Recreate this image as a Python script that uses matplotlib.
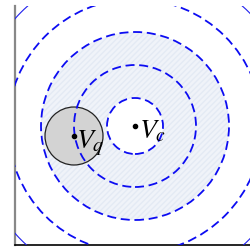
import matplotlib.pyplot as plt
from matplotlib.patches import Circle, Wedge

plt.rcParams['mathtext.fontset'] = 'stix'

# geometry (in pixel-like data units, centre Vc at origin)
vc = (0, 0)
vq = (-61, -10)
vq_radius = 29
dashed_radii = [28, 61, 94, 127]
outer_radius = 161
shade_inner, shade_outer = 28, 94

fig = plt.figure(figsize=(2.51, 2.49), dpi=100)
ax = fig.add_axes([15 / 251, 4 / 249, 240 / 251, 239 / 249])
ax.set_xlim(-120, 120)
ax.set_ylim(-119, 120)
ax.set_aspect('auto')

# shaded annulus
ax.add_patch(Wedge(vc, shade_outer, 0, 360, width=shade_outer - shade_inner,
                   facecolor='#f0f3f9', edgecolor='#e4eaf4', hatch='//////',
                   linewidth=0, zorder=1))

for r in dashed_radii:
    ax.add_patch(Circle(vc, r, fill=False, edgecolor='#0c0cf2', linewidth=1.3,
                        linestyle=(0, (5, 2.6)), zorder=3))
ax.add_patch(Circle(vc, outer_radius, fill=False, edgecolor='#2020ee',
                    linewidth=0.8, zorder=3))

ax.add_patch(Circle(vq, vq_radius, facecolor='#d3d3d3', edgecolor='#222222',
                    linewidth=0.9, zorder=2))

ax.plot(*vc, 'o', color='black', markersize=3, zorder=5)
ax.plot(*vq, 'o', color='black', markersize=3, zorder=5)
ax.text(vc[0] + 4, vc[1] - 12, '$V_c$', fontsize=20, zorder=6)
ax.text(vq[0] + 2, vq[1] - 12, '$V_q$', fontsize=20, zorder=6)

ax.set_xticks([])
ax.set_yticks([])
ax.spines['top'].set_visible(False)
ax.spines['right'].set_visible(False)
ax.spines['left'].set_color('#888888')
ax.spines['left'].set_linewidth(1.6)
ax.spines['bottom'].set_color('black')
ax.spines['bottom'].set_linewidth(1.2)

fig.savefig('out.png', dpi=100)
